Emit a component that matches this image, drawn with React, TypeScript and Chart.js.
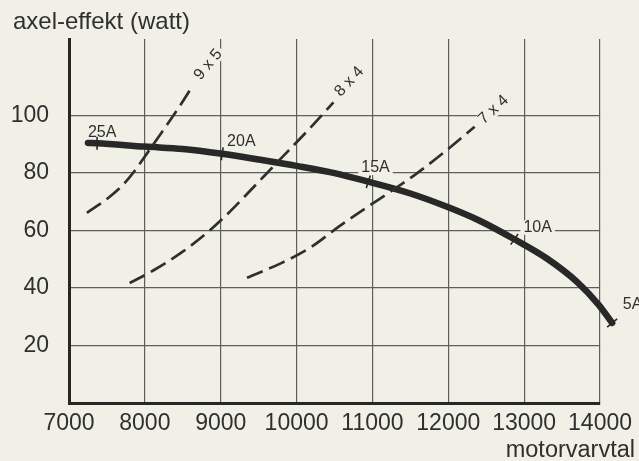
import { useEffect, useRef } from "react";
import { Chart, registerables } from "chart.js";

Chart.register(...registerables);

// ---- data ----
const xTickLabels = ["7000", "8000", "9000", "10000", "11000", "12000", "13000", "14000"];
const yTickLabels = ["20", "40", "60", "80", "100"];

// main power curve (motorvarvtal -> axel-effekt)
const mainRpm = [7250, 7370, 8000, 8500, 9020, 9500, 10000, 10500, 10945, 11500, 12000, 12400, 12871, 13300, 13700, 13980, 14160];
const mainPower = [90.4, 90.3, 89.1, 88.3, 86.6, 84.6, 82.4, 79.9, 76.9, 72.8, 68.0, 63.5, 56.9, 50.2, 42.0, 34.2, 27.8];

// current markers on the main curve
const ampLabels = ["25A", "20A", "15A", "10A", "5A"];
const ampRpm = [7370, 9020, 10945, 12871, 14160];
const ampPower = [90.3, 86.6, 76.9, 56.9, 27.8];

// propeller curves
const prop9x5Rpm = [7236, 7537, 7773, 8088, 8455, 8625];
const prop9x5Power = [66.1, 71.7, 77.6, 89.0, 103.0, 110.0];
const prop8x4Rpm = [7800, 8127, 8494, 8848, 9070, 9280, 9595, 9897, 10159, 10486];
const prop8x4Power = [41.7, 46.3, 52.5, 59.8, 65.2, 70.8, 79.5, 87.8, 95.0, 104.5];
const prop7x4Rpm = [9346, 9805, 10198, 10552, 10814, 11076, 11560, 11953, 12347];
const prop7x4Power = [43.5, 48.7, 54.3, 61.2, 66.0, 70.6, 79.3, 87.3, 96.0];
const propLabels = ["9 x 5", "8 x 4", "7 x 4"];

// label anchors (data units)
const ampLabelRpm = [7249, 9084, 10853, 12990, 14300];
const ampLabelPower = [93.9, 90.8, 81.7, 61.0, 34.1];
const propLabelRpm = [8835, 10696, 12596];
const propLabelPower = [117.6, 111.7, 101.9];
const propLabelAngle = [-50, -47, -43];
const ampTickAngle = [90, 98, 108, 125, 140];

const yTitle = "axel-effekt (watt)";
const xTitle = "motorvarvtal";

// ---- styles ----
const BG = "#f1f0e6";
const INK = "#2f2f2f";
const CURVE = "#282828";
const GRID = "#5e5e5e";
const FONT = '"Liberation Sans", Arial, Helvetica, sans-serif';

const pts = (xs: number[], ys: number[]) => xs.map((x, i) => ({ x, y: ys[i] }));

function drawLabel(ctx: CanvasRenderingContext2D, text: string, px: number, py: number, angle: number, align: "left" | "center", size: number) {
  ctx.save();
  ctx.translate(px, py);
  ctx.rotate((angle * Math.PI) / 180);
  ctx.font = `${size}px ${FONT}`;
  const w = ctx.measureText(text).width;
  const x0 = align === "left" ? 0 : -w / 2;
  ctx.fillStyle = BG;
  ctx.fillRect(x0 - 3, -size * 0.45, w + 6, size * 0.9);
  ctx.fillStyle = INK;
  ctx.textAlign = align;
  ctx.textBaseline = "middle";
  ctx.fillText(text, 0, 0);
  ctx.restore();
}

const decorPlugin = {
  id: "decor",
  beforeDraw(chart: any) {
    const ctx = chart.ctx;
    ctx.save();
    ctx.fillStyle = BG;
    ctx.fillRect(0, 0, chart.width, chart.height);
    ctx.restore();
  },
  beforeDatasetsDraw(chart: any) {
    const ctx = chart.ctx as CanvasRenderingContext2D;
    const { x, y } = chart.scales;
    ampLabels.forEach((t, i) => {
      drawLabel(ctx, t, x.getPixelForValue(ampLabelRpm[i]), y.getPixelForValue(ampLabelPower[i]), 0, "left", 16);
    });
    propLabels.forEach((t, i) => {
      drawLabel(ctx, t, x.getPixelForValue(propLabelRpm[i]), y.getPixelForValue(propLabelPower[i]), propLabelAngle[i], "center", 16);
    });
  },
  afterDatasetsDraw(chart: any) {
    const ctx = chart.ctx as CanvasRenderingContext2D;
    const { x, y } = chart.scales;
    ctx.save();
    ctx.strokeStyle = CURVE;
    ctx.lineWidth = 1.6;
    ampRpm.forEach((r, i) => {
      const px = x.getPixelForValue(r);
      const py = y.getPixelForValue(ampPower[i]);
      const a = (ampTickAngle[i] * Math.PI) / 180;
      const dx = Math.cos(a) * 6.5;
      const dy = Math.sin(a) * 6.5;
      ctx.beginPath();
      ctx.moveTo(px - dx, py - dy);
      ctx.lineTo(px + dx, py + dy);
      ctx.stroke();
    });
    ctx.restore();
  },
  afterDraw(chart: any) {
    const ctx = chart.ctx as CanvasRenderingContext2D;
    ctx.save();
    ctx.fillStyle = INK;
    ctx.textBaseline = "alphabetic";
    ctx.font = `24px ${FONT}`;
    ctx.textAlign = "left";
    ctx.fillText(yTitle, 13, 28.5);
    ctx.font = `23.5px ${FONT}`;
    ctx.textAlign = "right";
    ctx.fillText(xTitle, 635, 457);
    ctx.restore();
  },
};

export default function App() {
  const ref = useRef<HTMLCanvasElement>(null);
  useEffect(() => {
    if (!ref.current) return;
    const dashed = (xs: number[], ys: number[]) => ({
      data: pts(xs, ys),
      borderColor: INK,
      borderWidth: 2.7,
      borderDash: [17, 7],
      pointRadius: 0,
      cubicInterpolationMode: "monotone",
      clip: false,
    });
    const chart = new Chart(ref.current, {
      type: "line",
      data: {
        datasets: [
          dashed(prop9x5Rpm, prop9x5Power) as any,
          dashed(prop8x4Rpm, prop8x4Power) as any,
          dashed(prop7x4Rpm, prop7x4Power) as any,
          {
            data: pts(mainRpm, mainPower),
            borderColor: CURVE,
            borderWidth: 6.5,
            pointRadius: 0,
            cubicInterpolationMode: "monotone",
            borderCapStyle: "round",
            clip: false,
          } as any,
        ],
      },
      options: {
        responsive: false,
        animation: false,
        events: [],
        layout: { padding: { left: 0, right: 36, top: 39, bottom: 0 } },
        plugins: { legend: { display: false }, tooltip: { enabled: false }, title: { display: false } },
        scales: {
          x: {
            type: "linear",
            min: 7000,
            max: 14000,
            ticks: {
              stepSize: 1000,
              color: INK,
              font: { family: FONT, size: 23 },
              padding: 7,
              maxRotation: 0,
              autoSkip: false,
              callback: (_v: any, i: number) => xTickLabels[i] ?? "",
            },
            grid: { color: GRID, lineWidth: 1.2, drawTicks: false },
            border: { color: "#262626", width: 3 },
            afterFit: (s: any) => { s.height = 58; },
          },
          y: {
            type: "linear",
            min: 0,
            max: 126.5,
            ticks: {
              stepSize: 20,
              color: INK,
              font: { family: FONT, size: 23 },
              padding: 20,
              autoSkip: false,
              callback: (v: any) => (yTickLabels.includes(String(v)) ? String(v) : ""),
            },
            grid: {
              color: (c: any) => (c.tick && c.tick.value > 120 ? "rgba(0,0,0,0)" : GRID),
              lineWidth: 1.2,
              drawTicks: false,
            },
            border: { color: "#262626", width: 3 },
            afterFit: (s: any) => { s.width = 69; },
          },
        },
      } as any,
      plugins: [decorPlugin],
    });
    return () => chart.destroy();
  }, []);
  return (
    <div style={{ position: "fixed", left: 0, top: 0, width: 639, height: 461, background: BG }}>
      <canvas ref={ref} width={639} height={461} style={{ display: "block", width: 639, height: 461 }} />
    </div>
  );
}
